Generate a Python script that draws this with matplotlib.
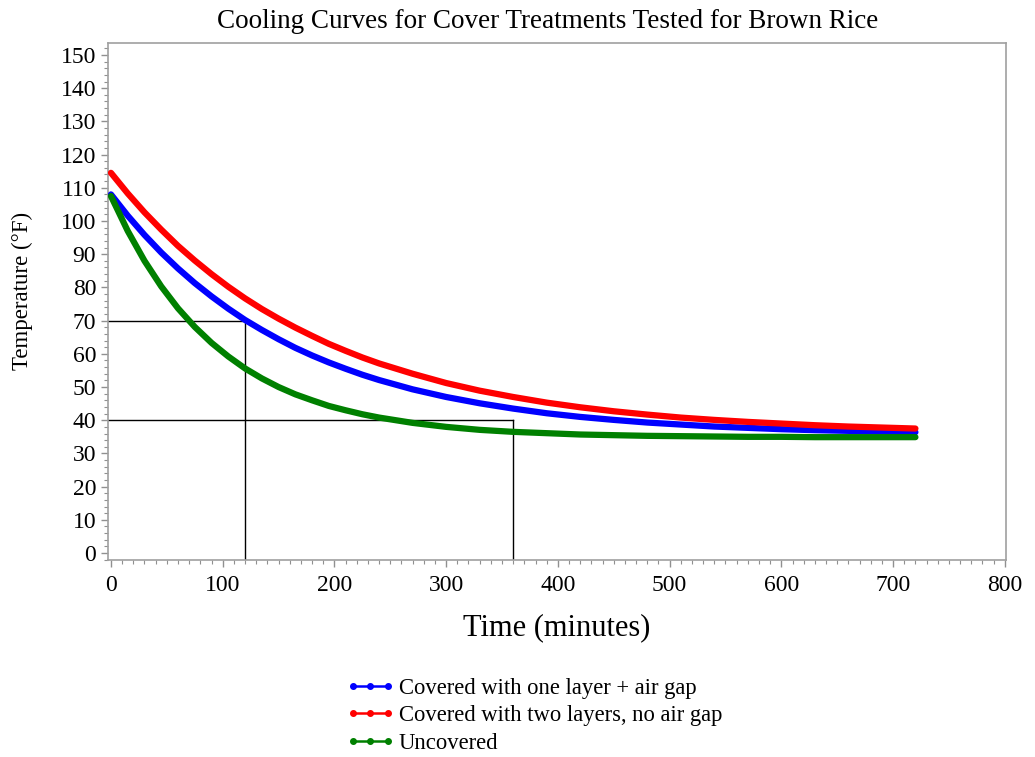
import matplotlib.pyplot as plt
from matplotlib.lines import Line2D
from matplotlib.ticker import MultipleLocator

plt.rcParams['font.family'] = ['Liberation Serif', 'DejaVu Serif']

# time in minutes, temps in F
time_min = [0, 15, 30, 45, 60, 75, 90, 105, 120, 135, 150, 165, 180, 195, 210, 225, 240,
            270, 300, 330, 360, 390, 420, 450, 480, 510, 540, 570, 600, 630, 660, 690, 720]
one_layer_gap = [108.0, 101.6, 95.8, 90.5, 85.7, 81.3, 77.3, 73.6, 70.2, 67.2, 64.4, 61.8,
                 59.5, 57.4, 55.5, 53.7, 52.1,
                 49.3, 47.0, 45.1, 43.5, 42.1, 41.0, 40.1, 39.3, 38.7, 38.1, 37.7, 37.3,
                 37.0, 36.8, 36.6, 36.4]
two_layers = [114.5, 108.3, 102.6, 97.4, 92.5, 88.1, 84.0, 80.2, 76.7, 73.5, 70.6, 67.9,
              65.4, 63.0, 60.9, 58.9, 57.1,
              54.0, 51.2, 48.9, 47.0, 45.3, 43.9, 42.7, 41.7, 40.8, 40.1, 39.5, 39.0,
              38.5, 38.1, 37.8, 37.5]
uncovered = [107.5, 97.0, 88.0, 80.3, 73.7, 68.1, 63.3, 59.2, 55.6, 52.6, 50.0, 47.8,
             46.0, 44.3, 43.0, 41.8, 40.8,
             39.2, 38.0, 37.1, 36.5, 36.1, 35.7, 35.5, 35.3, 35.2, 35.1, 35.0, 35.0,
             34.9, 34.9, 34.9, 34.9]

labels = ['Covered with one layer + air gap',
          'Covered with two layers, no air gap',
          'Uncovered']
colors = ['#0000ff', '#ff0000', '#008000']

# guide lines: 70F at 2 h, 40F at 6 h
ref_times = [120, 360]
ref_temps = [70, 40]

fig = plt.figure(figsize=(10.35, 7.57), dpi=100)
ax = fig.add_axes([0.1043, 0.2602, 0.8676, 0.683])

xmin, ymin = -2.7, -2.1
for t, T in zip(ref_times, ref_temps):
    ax.plot([xmin, t], [T, T], color='black', lw=1.0, zorder=2)
    ax.plot([t, t], [T, ymin], color='black', lw=1.0, zorder=2)

for y, c in zip([one_layer_gap, two_layers, uncovered], colors):
    ax.plot(time_min, y, color=c, lw=4.5, solid_capstyle='round', solid_joinstyle='round', zorder=3)

ax.set_xlim(xmin, 801)
ax.set_ylim(ymin, 153.6)
ax.xaxis.set_major_locator(MultipleLocator(100))
ax.xaxis.set_minor_locator(MultipleLocator(10))
ax.yaxis.set_major_locator(MultipleLocator(10))
ax.yaxis.set_minor_locator(MultipleLocator(2))
ax.tick_params(which='both', direction='out', colors='#909090', labelcolor='black', labelsize=17)
ax.tick_params(which='major', length=5, width=1)
ax.tick_params(which='minor', length=3, width=0.8)
ax.tick_params(axis='x', which='major', pad=6)
for s in ax.spines.values():
    s.set_color('#a0a0a0')
    s.set_linewidth(1.2)

ax.set_title('Cooling Curves for Cover Treatments Tested for Brown Rice', fontsize=19.5,
             pad=11, x=0.49)
ax.set_xlabel('Time (minutes)', fontsize=22, labelpad=12)
ax.set_ylabel('Temperature (°F)', fontsize=16.5, labelpad=20, y=0.52)

handles = [Line2D([], [], color=c, lw=1.8, marker='o', markersize=4) for c in colors]
fig.legend(handles, labels, loc='upper center', bbox_to_anchor=(0.516, 0.105), frameon=False,
           fontsize=16.3, numpoints=3, handlelength=2.15, handletextpad=0.2, labelspacing=0.3,
           borderaxespad=0, borderpad=0)

fig.savefig('out.png', dpi=100)
